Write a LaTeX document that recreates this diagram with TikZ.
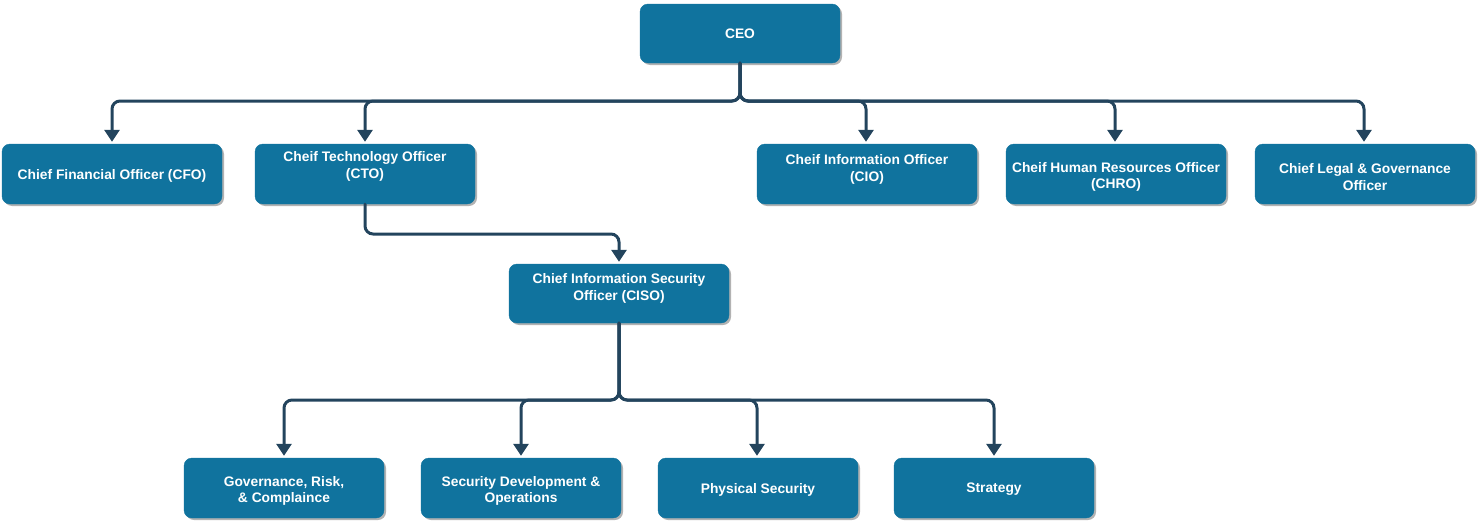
\documentclass[tikz,border=0pt]{standalone}
\usepackage{fontspec}
\setmainfont{Liberation Sans}
\usetikzlibrary{arrows.meta,shadows}
\definecolor{boxfill}{HTML}{10739E}
\definecolor{edgecol}{HTML}{23445D}
\tikzset{
  box/.style={draw=boxfill, fill=boxfill, rounded corners=8pt, minimum width=#1, minimum height=60pt, inner sep=0pt,
    drop shadow={shadow xshift=2pt, shadow yshift=-2pt, fill=black, opacity=0.3}},
  box/.default=220pt,
  txt/.style={text=white, font=\bfseries\fontsize{13.8}{16.8}\selectfont, align=center, inner sep=0pt, yshift=-2pt},
  edge/.style={draw=edgecol, line width=3pt, rounded corners=8pt, line cap=round,
    -{Triangle[width=15pt,length=12pt]}, shorten >=2pt}
}
\begin{document}
\begin{tikzpicture}[x=1pt,y=-1pt]
\useasboundingbox (0,0) rectangle (1484,530);
% boxes
\node[box=200pt, minimum height=59pt] (ceo) at (740,33.5) {};
\node[txt] at (740,31.5) {CEO};
\node[box] (cfo) at (112,174) {};
\node[txt] at (112,174) {Chief Financial Officer (CFO)};
\node[box] (cto) at (365,174) {};
\node[txt] at (365,164.5) {Cheif Technology Officer\\(CTO)};
\node[box] (cio) at (867,174) {};
\node[txt] at (867,167.5) {Cheif Information Officer\\(CIO)};
\node[box] (chro) at (1116,174) {};
\node[txt] at (1116,175) {Cheif Human Resources Officer\\(CHRO)};
\node[box] (clgo) at (1365,174) {};
\node[txt] at (1365,175) {Chief Legal \& Governance\\Officer};
\node[box, minimum height=59pt] (ciso) at (619,293.5) {};
\node[txt] at (619,286.5) {Chief Information Security\\Officer (CISO)};
\node[box=200pt] (grc) at (284,488) {};
\node[txt] at (284,489) {Governance, Risk,\\\& Complaince};
\node[box=200pt] (sdo) at (521,488) {};
\node[txt] at (521,489) {Security Development \&\\Operations};
\node[box=200pt] (phys) at (758,488) {};
\node[txt] at (758,488) {Physical Security};
\node[box=200pt] (strat) at (994,488) {};
\node[txt] at (994,487) {Strategy};
% connectors
\coordinate (j1) at (740,101);
\coordinate (j2) at (365,234);
\coordinate (j3) at (619,400);
\foreach \t/\x in {cfo/112, cto/365, cio/866, chro/1115, clgo/1364}{
  \draw[edge] (ceo.south) -- (j1) -- (\x,101) -- (\t.north -| \x,0);
}
\draw[edge] (cto.south) -- (j2) -- (619,234) -- (ciso.north);
\foreach \t/\x in {grc/284, sdo/521, phys/757, strat/994}{
  \draw[edge] (ciso.south) -- (j3) -- (\x,400) -- (\t.north -| \x,0);
}
\end{tikzpicture}
\end{document}
